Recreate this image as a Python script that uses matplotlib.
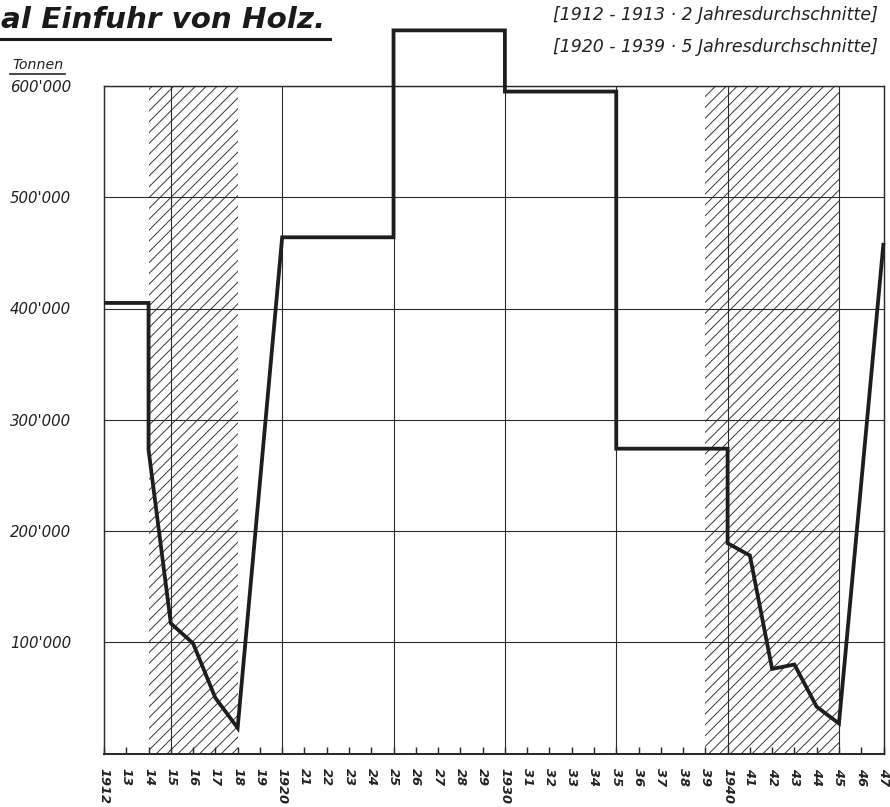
import matplotlib
matplotlib.use("Agg")
import matplotlib.pyplot as plt
from matplotlib.lines import Line2D

# ---------------- data ----------------
# 2-year average 1912-1913 (drawn over 1912-1914)
avg2_span = [1912, 1914]
avg2_value = 405000
# annual values WWI
ww1_years = [1914, 1915, 1916, 1917, 1918]
ww1_values = [273000, 117000, 99000, 50000, 23000]
# 5-year averages 1920-1939 (start, end, value)
avg5_starts = [1920, 1925, 1930, 1935]
avg5_ends = [1925, 1930, 1935, 1940]
avg5_values = [464000, 650000, 595000, 274000]
# annual values 1940-1947
ww2_years = [1940, 1941, 1942, 1943, 1944, 1945, 1947]
ww2_values = [189000, 178000, 76000, 80000, 42000, 27000, 459000]
# war periods (hatched)
war_starts = [1914, 1939]
war_ends = [1918, 1945]

years_axis = list(range(1912, 1948))
year_labels = [str(y) if y % 10 == 0 or y == 1912 else str(y)[2:] for y in years_axis]
y_ticks = [100000, 200000, 300000, 400000, 500000, 600000]
y_labels = ["100'000", "200'000", "300'000", "400'000", "500'000", "600'000"]

title_text = "al Einfuhr von Holz."
note_lines = ["[1912 - 1913 \u00b7 2 Jahresdurchschnitte]",
              "[1920 - 1939 \u00b7 5 Jahresdurchschnitte]"]
unit_text = "Tonnen"

# ---------------- build path ----------------
xs = list(avg2_span)
ys = [avg2_value, avg2_value]
xs += ww1_years
ys += ww1_values
for s, e, v in zip(avg5_starts, avg5_ends, avg5_values):
    xs += [s, e]
    ys += [v, v]
xs += ww2_years
ys += ww2_values

# ---------------- figure ----------------
DPI = 130
W, H = 890, 807
plt.rcParams['hatch.linewidth'] = 0.55
fig = plt.figure(figsize=(W / DPI, H / DPI), dpi=DPI)
fig.patch.set_facecolor('white')

left, right, bottom, top = 104 / W, 883.5 / W, 1 - 753.5 / H, 1 - 86 / H
ax = fig.add_axes([left, bottom, right - left, top - bottom])
ax.set_xlim(1912, 1947)
ax.set_ylim(0, 600000)

ink = '#2a2a2a'

# hatched war periods
for s, e in zip(war_starts, war_ends):
    ax.axvspan(s, e, facecolor='none', edgecolor='#3a3a3a', hatch='////',
               linewidth=0, zorder=1)

# grid
for yv in y_ticks:
    ax.axhline(yv, color=ink, lw=0.6, zorder=2)
for xv in range(1915, 1947, 5):
    ax.axvline(xv, color=ink, lw=0.6, zorder=2)

# main line
ax.plot(xs, ys, color='#1e1e1e', lw=2.1, solid_joinstyle='miter',
        solid_capstyle='butt', zorder=5, clip_on=False)

# spines
for sp in ['left', 'right', 'top']:
    ax.spines[sp].set_linewidth(0.8)
    ax.spines[sp].set_color(ink)
ax.spines['bottom'].set_linewidth(1.1)
ax.spines['bottom'].set_color(ink)

# x ticks
ax.set_xticks(years_axis)
ax.set_xticklabels(year_labels, rotation=-90, fontsize=7.2, fontstyle='italic',
                   fontweight='bold', color='#222222', va='top', ha='center')
ax.tick_params(axis='x', direction='in', length=4, width=0.8, color=ink, pad=8)

# y ticks
ax.set_yticks(y_ticks)
ax.set_yticklabels(y_labels, fontsize=8.3, fontstyle='italic', color='#222222')
for lab in ax.get_yticklabels():
    lab.set_horizontalalignment('left')
ax.tick_params(axis='y', length=0, pad=(104 - 10) * 72 / DPI)

# unit label with underline
fig.text(12 / W, 1 - 65 / H, unit_text, fontsize=7.8, fontstyle='italic',
         color='#222222', ha='left', va='center')
fig.add_artist(Line2D([10 / W, 65 / W], [1 - 74 / H, 1 - 74 / H],
                      color='#222222', lw=0.9))

# title (at left edge) with underline
fig.text(1 / W, 1 - 20 / H, title_text, fontsize=16.3, fontstyle='italic',
         fontweight='bold', color='#1a1a1a', ha='left', va='center')
fig.add_artist(Line2D([0, 330 / W], [1 - 39 / H, 1 - 39 / H],
                      color='#1a1a1a', lw=1.7))

# notes top right
fig.text(553 / W, 1 - 15 / H, note_lines[0], fontsize=9.6, fontstyle='italic',
         color='#222222', ha='left', va='center')
fig.text(553 / W, 1 - 47 / H, note_lines[1], fontsize=9.6, fontstyle='italic',
         color='#222222', ha='left', va='center')

fig.savefig('out.png', dpi=DPI, facecolor='white')
